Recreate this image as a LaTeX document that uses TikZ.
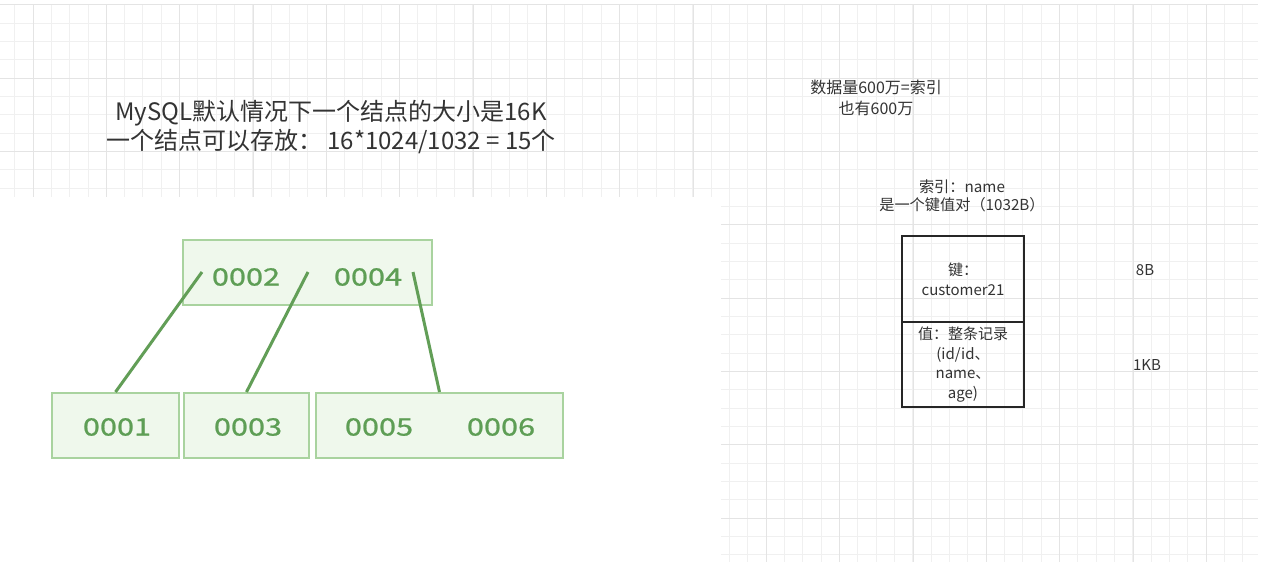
\documentclass[tikz,border=0pt]{standalone}
\usepackage{fontspec}
\setmainfont{Noto Sans CJK SC}
\usepackage{graphicx}
\usepackage{xcolor}
\definecolor{gridminor}{HTML}{F0F0F0}
\definecolor{gridmajor}{HTML}{E4E4E4}
\definecolor{keyfill}{HTML}{EFF8EC}
\definecolor{keyedge}{HTML}{A9D39F}
\definecolor{keytext}{HTML}{5E9E55}
\definecolor{treeline}{HTML}{629E57}
\definecolor{inktext}{HTML}{333333}
\newcommand{\widekey}[1]{\scalebox{1.28}[1]{#1}}

\begin{document}
\begin{tikzpicture}[x=0.5pt,y=-0.5pt,
  pagebox/.style={draw=keyedge,fill=keyfill,line width=1pt,minimum height=32.5pt,inner sep=0pt},
  keylabel/.style={text=keytext,font=\fontsize{12}{14}\selectfont\addfontfeature{FakeBold=0.8},inner sep=0pt},
  link/.style={draw=treeline,line width=1.5pt},
  note/.style={text=inktext,align=center,inner sep=0pt},
  cell/.style={draw=black!85,line width=1pt,inner sep=0pt,minimum width=61pt}]
\useasboundingbox (0,0) rectangle (1279,574);
\fill[white] (0,0) rectangle (1279,574);

\foreach \i in {-1,...,66}
  \draw[gridminor,line width=0.5pt] ({33+18.333*\i},5) -- ({33+18.333*\i},562);
\foreach \j in {0,...,30}
  \draw[gridminor,line width=0.5pt] (0,{4.67+18.333*\j}) -- (1258,{4.67+18.333*\j});
\foreach \i in {0,...,16}
  \draw[gridmajor,line width=0.5pt] ({33+73.333*\i},5) -- ({33+73.333*\i},562);
\foreach \j in {0,...,7}
  \draw[gridmajor,line width=0.5pt] (0,{4.67+73.333*\j}) -- (1258,{4.67+73.333*\j});
\fill[white] (0,197) rectangle (721,574);

\node[note,font=\fontsize{12}{14.5}\selectfont] (title) at (331,127)
  {MySQL默认情况下一个结点的大小是16K\\一个结点可以存放：\ 16*1024/1032 = 15个};

\node[pagebox,minimum width=124.5pt] (root) at (307.5,272.5) {};
\node[pagebox,minimum width=63.5pt] (leaf1) at (115.5,425.5) {};
\node[pagebox,minimum width=62.5pt] (leaf2) at (246.5,425.5) {};
\node[pagebox,minimum width=123.5pt] (leaf3) at (439.5,425.5) {};
\node[keylabel] (k2) at (246,277) {\widekey{0002}};
\node[keylabel] (k4) at (368,277) {\widekey{0004}};
\node[keylabel] (k1) at (117,427) {\widekey{0001}};
\node[keylabel] (k3) at (248,427) {\widekey{0003}};
\node[keylabel] (k5) at (379,427) {\widekey{0005}};
\node[keylabel] (k6) at (501,427) {\widekey{0006}};
\coordinate (p0) at (202,272);
\coordinate (p1) at (308,272);
\coordinate (p2) at (413,272);
\draw[link] (p0) -- (leaf1.north);
\draw[link] (p1) -- (leaf2.north);
\draw[link] (p2) -- (leaf3.north);

\node[note,font=\fontsize{8}{10.5}\selectfont] (rows) at (876,98)
  {数据量600万=索引\\也有600万};
\node[note,font=\fontsize{7.6}{9}\selectfont] (pair) at (962,196)
  {索引：name\\是一个键值对（1032B）};
\node[cell,minimum height=43pt] (keycell) at (963,279) {};
\node[cell,minimum height=42.5pt] (valcell) at (963,364.5) {};
\node[note,font=\fontsize{7.5}{10}\selectfont] (keytxt) at (keycell.center)
  {键：\\customer21};
\node[note,font=\fontsize{7.5}{9.8}\selectfont] (valtxt) at (valcell.center)
  {值：整条记录\\(id/id、\\name、\\age)};
\node[note,font=\fontsize{7.5}{9}\selectfont] (keysize) at (1145,270) {8B};
\node[note,font=\fontsize{7.5}{9}\selectfont] (valsize) at (1147,365) {1KB};
\end{tikzpicture}
\end{document}
